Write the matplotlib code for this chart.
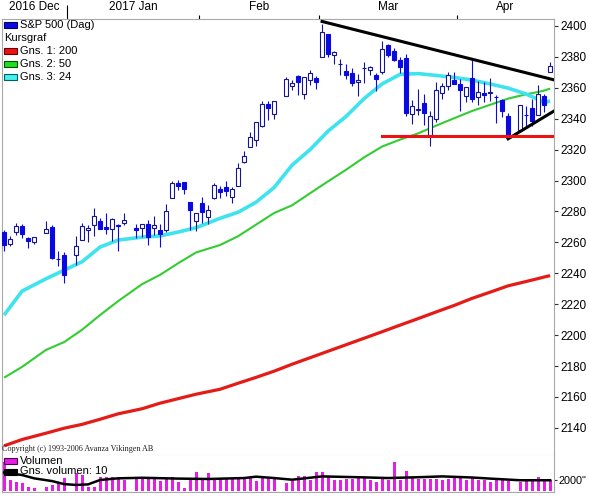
import numpy as np
import matplotlib
matplotlib.use("Agg")
import matplotlib.pyplot as plt
from matplotlib.patches import Rectangle

W, H = 589, 496

COLORS = {
    "candle_fill": "#0A0AE0",
    "candle_edge": "#15158F",
    "ma24": "#3EE3EE",
    "ma50": "#33CC33",
    "ma200": "#E41B17",
    "support": "#EE1111",
    "trend": "#000000",
    "volume": "#E51EE5",
    "frame": "#A8A8A8",
}

DATES = [
    "2016-12-16", "2016-12-19", "2016-12-20", "2016-12-21", "2016-12-22", "2016-12-23",
    "2016-12-27", "2016-12-28", "2016-12-29", "2016-12-30",
    "2017-01-03", "2017-01-04", "2017-01-05", "2017-01-06", "2017-01-09", "2017-01-10",
    "2017-01-11", "2017-01-12", "2017-01-13", "2017-01-17", "2017-01-18", "2017-01-19",
    "2017-01-20", "2017-01-23", "2017-01-24", "2017-01-25", "2017-01-26", "2017-01-27",
    "2017-01-30", "2017-01-31",
    "2017-02-01", "2017-02-02", "2017-02-03", "2017-02-06", "2017-02-07", "2017-02-08",
    "2017-02-09", "2017-02-10", "2017-02-13", "2017-02-14", "2017-02-15", "2017-02-16",
    "2017-02-17", "2017-02-21", "2017-02-22", "2017-02-23", "2017-02-24", "2017-02-27",
    "2017-02-28",
    "2017-03-01", "2017-03-02", "2017-03-03", "2017-03-06", "2017-03-07", "2017-03-08",
    "2017-03-09", "2017-03-10", "2017-03-13", "2017-03-14", "2017-03-15", "2017-03-16",
    "2017-03-17", "2017-03-20", "2017-03-21", "2017-03-22", "2017-03-23", "2017-03-24",
    "2017-03-27", "2017-03-28", "2017-03-29", "2017-03-30", "2017-03-31",
    "2017-04-03", "2017-04-04", "2017-04-05", "2017-04-06", "2017-04-07", "2017-04-10",
    "2017-04-11", "2017-04-12", "2017-04-13", "2017-04-17", "2017-04-18", "2017-04-19",
    "2017-04-20", "2017-04-21", "2017-04-24",
]

OPEN = [
    2266.8, 2259.2, 2266.5, 2270.5, 2262.9, 2260.3, 2266.2, 2270.2, 2249.5, 2251.6,
    2251.6, 2261.6, 2268.2, 2271.1, 2273.6, 2269.7, 2268.6, 2271.1, 2272.7, 2269.1,
    2269.1, 2271.9, 2269.0, 2267.8, 2267.9, 2288.9, 2298.6, 2299.0, 2286.0, 2274.0,
    2285.6, 2276.7, 2288.5, 2294.3, 2295.9, 2289.6, 2296.7, 2312.3, 2321.7, 2326.1,
    2335.6, 2349.6, 2343.0, 2354.9, 2361.1, 2367.5, 2355.7, 2365.2, 2366.1,
    2380.1, 2394.8, 2380.9, 2375.2, 2370.7, 2369.8, 2363.5, 2372.5, 2371.6, 2368.6,
    2370.3, 2387.7, 2383.7, 2378.2, 2379.3, 2343.0, 2345.5, 2350.4, 2329.1, 2339.8,
    2356.5, 2361.3, 2364.8,
    2362.3, 2354.8, 2366.6, 2353.8, 2356.6, 2356.8, 2353.9, 2352.2, 2342.0, 2332.6,
    2342.5, 2346.8, 2342.7, 2354.7, 2370.3,
]
HIGH = [
    2268.1, 2264.0, 2272.6, 2271.7, 2263.7, 2263.8, 2273.8, 2271.3, 2254.5, 2253.6,
    2263.9, 2272.8, 2271.5, 2282.1, 2275.5, 2279.3, 2275.5, 2271.8, 2278.7, 2272.1,
    2272.0, 2274.3, 2276.9, 2271.8, 2284.6, 2299.6, 2300.4, 2299.0, 2286.0, 2279.1,
    2289.1, 2284.0, 2298.3, 2296.2, 2299.4, 2295.9, 2311.1, 2319.2, 2331.6, 2337.6,
    2351.3, 2351.3, 2351.2, 2366.7, 2365.1, 2368.3, 2367.3, 2371.5, 2367.8,
    2401.0, 2394.8, 2383.9, 2378.8, 2375.1, 2373.1, 2369.1, 2376.9, 2374.4, 2369.8,
    2390.0, 2388.1, 2385.7, 2379.6, 2381.9, 2351.8, 2358.9, 2356.2, 2344.9, 2363.8,
    2363.4, 2370.4, 2370.4,
    2365.9, 2360.5, 2378.4, 2364.2, 2363.8, 2366.4, 2355.2, 2352.7, 2343.6, 2349.1,
    2348.4, 2352.6, 2361.9, 2356.2, 2377.0,
]
LOW = [
    2254.2, 2257.9, 2264.8, 2263.0, 2256.1, 2258.8, 2266.2, 2249.1, 2244.6, 2233.6,
    2245.1, 2261.6, 2260.5, 2264.1, 2268.8, 2265.3, 2260.8, 2254.3, 2271.5, 2262.8,
    2263.4, 2258.4, 2265.0, 2257.0, 2266.7, 2288.9, 2294.1, 2291.6, 2268.0, 2267.2,
    2272.4, 2271.7, 2287.9, 2288.6, 2290.2, 2285.4, 2296.6, 2311.1, 2321.4, 2322.2,
    2334.8, 2338.9, 2339.6, 2354.9, 2358.3, 2355.1, 2352.9, 2361.9, 2359.0,
    2380.1, 2380.2, 2375.4, 2368.0, 2365.5, 2361.0, 2354.5, 2363.0, 2368.5, 2358.2,
    2368.9, 2379.9, 2377.6, 2369.7, 2341.9, 2336.5, 2342.1, 2335.7, 2322.3, 2337.6,
    2352.9, 2358.6, 2362.6,
    2344.7, 2350.7, 2350.5, 2348.9, 2350.7, 2351.5, 2337.3, 2341.2, 2329.0, 2332.5,
    2334.5, 2335.1, 2342.7, 2344.5, 2370.3,
]
CLOSE = [
    2258.1, 2262.5, 2270.8, 2265.2, 2261.0, 2263.8, 2268.9, 2249.9, 2249.3, 2238.8,
    2257.8, 2270.8, 2269.0, 2277.0, 2268.9, 2268.9, 2275.3, 2270.4, 2274.6, 2267.9,
    2271.9, 2263.7, 2271.3, 2265.2, 2280.1, 2298.4, 2296.7, 2294.7, 2280.9, 2278.9,
    2279.6, 2280.9, 2297.4, 2292.6, 2293.1, 2294.7, 2307.9, 2316.1, 2328.3, 2337.6,
    2349.3, 2347.2, 2351.2, 2365.4, 2362.8, 2363.8, 2367.3, 2369.8, 2363.6,
    2396.0, 2381.9, 2383.1, 2375.3, 2368.4, 2363.0, 2364.9, 2372.6, 2373.5, 2365.5,
    2385.3, 2381.4, 2378.3, 2373.5, 2344.0, 2348.5, 2346.0, 2344.0, 2341.6, 2358.6,
    2361.1, 2368.1, 2362.7,
    2358.8, 2360.2, 2353.0, 2357.5, 2355.5, 2357.2, 2353.8, 2344.9, 2329.0, 2349.0,
    2342.2, 2338.2, 2355.8, 2348.7, 2374.2,
]
VOLUME = [
    5280, 1950, 1640, 1330, 730, 420, 730, 1040, 1330, 2310,
    3220, 2910, 730, 730, 2550, 2400, 2400, 2300, 2000, 2400,
    2370, 2370, 2370, 1760, 2370, 2450, 1600, 420, 2370, 3450,
    2370, 3150, 2370, 2370, 2370, 2370, 2370, 2370, 2370, 1800,
    2370, 2370, 2370, 1330, 2000, 2600, 2600, 2000, 3400,
    3400, 2490, 2000, 2000, 2180, 2180, 2310, 2310, 2000, 1580,
    2420, 2000, 5220, 2000, 3640, 2420, 2180, 2180, 2180, 2180,
    1870, 2180, 2420,
    2600, 2000, 2420, 2000, 2000, 1580, 1870, 2180, 1690, 1580,
    2000, 2180, 2420, 2180, 1870,
]

# moving averages at a subset of trading days
MA_DATES = [
    "2016-12-16", "2016-12-21", "2016-12-27", "2016-12-30", "2017-01-04", "2017-01-09",
    "2017-01-12", "2017-01-18", "2017-01-23", "2017-01-26", "2017-01-31", "2017-02-06",
    "2017-02-09", "2017-02-14", "2017-02-17", "2017-02-22", "2017-02-27", "2017-03-02",
    "2017-03-07", "2017-03-10", "2017-03-15", "2017-03-20", "2017-03-23", "2017-03-28",
    "2017-03-31", "2017-04-05", "2017-04-10", "2017-04-13", "2017-04-18", "2017-04-20",
    "2017-04-21", "2017-04-24",
]
MA24 = [
    2213.0, 2228.5, 2236.5, 2242.0, 2247.5, 2257.0, 2261.5, 2263.4, 2264.2, 2266.7,
    2269.5, 2275.6, 2279.5, 2286.0, 2295.5, 2310.0, 2320.0, 2332.0, 2341.5, 2353.0,
    2362.5, 2368.7, 2369.2, 2368.0, 2366.7, 2365.0, 2362.5, 2359.8, 2356.0, 2352.5,
    2350.4, 2351.5,
]
MA50 = [
    2172.5, 2179.5, 2190.5, 2195.5, 2203.5, 2213.0, 2222.0, 2233.0, 2239.0, 2246.5,
    2253.5, 2258.3, 2264.0, 2271.5, 2279.0, 2284.0, 2291.8, 2299.5, 2307.0, 2315.0,
    2322.0, 2326.5, 2330.5, 2335.5, 2340.3, 2345.0, 2349.0, 2353.0, 2355.8, 2357.3,
    2358.2, 2359.5,
]
MA200 = [
    2128.4, 2132.5, 2136.6, 2139.8, 2142.3, 2145.6, 2149.1, 2152.4, 2156.0, 2158.9,
    2161.8, 2165.0, 2168.9, 2172.7, 2176.7, 2181.2, 2185.4, 2189.6, 2193.8, 2198.0,
    2202.2, 2206.5, 2210.7, 2215.0, 2219.2, 2223.8, 2227.8, 2231.9, 2234.7, 2236.6,
    2237.6, 2238.5,
]
VOL_MA_DATES = [
    "2016-12-16", "2016-12-21", "2016-12-23", "2016-12-28", "2016-12-30", "2017-01-03",
    "2017-01-05", "2017-01-09", "2017-01-12", "2017-01-18", "2017-01-26", "2017-02-02",
    "2017-02-10", "2017-02-14", "2017-02-17", "2017-02-22", "2017-03-01", "2017-03-09",
    "2017-03-16", "2017-03-23", "2017-03-29", "2017-04-05", "2017-04-10", "2017-04-17",
    "2017-04-24",
]
VOL_MA = [
    3300, 2850, 2250, 1750, 1200, 1050, 1150, 1950, 2250, 2350, 2200, 2130,
    2300, 2550, 2300, 2000, 2600, 2450, 2300, 2450, 2600, 2400, 2200, 1900, 1900,
]

# hand-drawn lines on the chart
TREND_TOP_DATES = ["2017-03-01", "2017-04-25"]
TREND_TOP = [2402.9, 2364.8]
TREND_LOW_DATES = ["2017-04-13", "2017-04-25"]
TREND_LOW = [2327.0, 2345.8]
SUPPORT_DATES = ["2017-03-15", "2017-04-25"]
SUPPORT = [2328.8, 2328.8]

PRICE_TICKS = list(range(2140, 2401, 20))
VOLUME_TICKS = [2000]
VOLUME_TICK_LABELS = ['2000"']
MONTH_STARTS = ["2017-01-01", "2017-02-01", "2017-03-01", "2017-04-01"]
MONTH_LABELS = ["2016 Dec", "2017 Jan", "Feb", "Mar", "Apr"]

MAIN_LEGEND = [
    ("S&P 500 (Dag)", COLORS["candle_fill"], "#000060"),
    ("Kursgraf", None, None),
    ("Gns. 1: 200", "#EE1111", "#600000"),
    ("Gns. 2: 50", "#22DD22", "#005000"),
    ("Gns. 3: 24", "#44F0F0", "#006060"),
]
VOLUME_LEGEND = [
    ("Volumen", COLORS["volume"], "#500050"),
    ("Gns. volumen: 10", "#000000", "#000000"),
]


def slots(dates):
    # one slot per weekday, holidays stay empty
    return np.busday_count(DATES[0], np.array(dates, dtype="datetime64[D]")).astype(float)


def fx(x):
    return x / W


def fy(y):
    return 1 - y / H


def style_frame(ax):
    for spine in ax.spines.values():
        spine.set_color(COLORS["frame"])
        spine.set_linewidth(0.8)


def draw_legend(fig, items, y0, step):
    for i, (label, face, edge) in enumerate(items):
        yc = y0 + i * step
        if face is None:
            fig.text(fx(4), fy(yc), label, fontsize=8, va="center", ha="left")
            continue
        fig.add_artist(Rectangle((fx(4), fy(yc + 3)), 12.5 / W, 6 / H, transform=fig.transFigure,
                                 facecolor=face, edgecolor=edge, linewidth=0.8, zorder=10))
        fig.text(fx(19.5), fy(yc), label, fontsize=8, va="center", ha="left", zorder=10)


def main():
    plt.rcParams["font.family"] = ["Liberation Sans", "DejaVu Sans"]

    x = slots(DATES)
    o, h, l, c = (np.array(v) for v in (OPEN, HIGH, LOW, CLOSE))
    up = c >= o
    xmin, xmax = -0.35, x[-1] + 0.65

    fig = plt.figure(figsize=(W / 100, H / 100), dpi=100, facecolor="white")
    ax = fig.add_axes([fx(2), fy(454.5), 552 / W, (454.5 - 19) / H])
    vax = fig.add_axes([fx(2), fy(491.5), 552 / W, 37 / H])

    # moving averages under the candles
    ma_x = slots(MA_DATES)
    ax.plot(ma_x, MA200, color=COLORS["ma200"], lw=2.3, zorder=2, solid_capstyle="butt")
    ax.plot(ma_x, MA50, color=COLORS["ma50"], lw=1.5, zorder=2, solid_capstyle="butt")
    ax.plot(ma_x, MA24, color=COLORS["ma24"], lw=2.6, zorder=2, solid_capstyle="butt")

    # candles
    ax.vlines(x[up], l[up], h[up], color=COLORS["candle_edge"], lw=0.8, zorder=4)
    ax.vlines(x[~up], l[~up], h[~up], color=COLORS["candle_fill"], lw=0.8, zorder=4)
    ax.bar(x[up], (c - o)[up], bottom=o[up], width=0.72, facecolor="white",
           edgecolor=COLORS["candle_edge"], lw=0.8, zorder=5)
    ax.bar(x[~up], (o - c)[~up], bottom=c[~up], width=0.72, facecolor=COLORS["candle_fill"],
           edgecolor=COLORS["candle_fill"], lw=0.8, zorder=5)

    # drawn lines
    ax.plot(slots(TREND_TOP_DATES), TREND_TOP, color=COLORS["trend"], lw=2.2, zorder=6)
    ax.plot(slots(TREND_LOW_DATES), TREND_LOW, color=COLORS["trend"], lw=2.2, zorder=6)
    ax.plot(slots(SUPPORT_DATES), SUPPORT, color=COLORS["support"], lw=2.2, zorder=6)

    ax.set_xlim(xmin, xmax)
    ax.set_ylim(2122.8, 2404.5)
    style_frame(ax)

    ax.yaxis.tick_right()
    ax.set_yticks(PRICE_TICKS)
    ax.tick_params(axis="y", direction="out", length=3, width=0.8, pad=1.5, labelsize=8.5,
                   color="#303030")

    bounds = slots(MONTH_STARTS) - 0.5
    edges = np.concatenate([[x[0] - 0.5], bounds, [x[-1] + 0.5]])
    centers = (edges[:-1] + edges[1:]) / 2
    ax.xaxis.tick_top()
    ax.set_xticks(bounds)
    ax.set_xticklabels([])
    ax.set_xticks(centers, minor=True)
    ax.set_xticklabels(MONTH_LABELS, minor=True)
    ax.tick_params(axis="x", which="major", direction="out", length=2.6, width=0.8, color="black")
    ax.tick_params(axis="x", which="minor", length=0, pad=4, labelsize=8.5)
    ax.xaxis.get_major_ticks()[0].tick2line.set_markersize(10)

    # volume panel
    vax.bar(x, VOLUME, width=0.5, color=COLORS["volume"], zorder=2)
    vax.plot(slots(VOL_MA_DATES), VOL_MA, color="black", lw=1.8, zorder=3)
    vax.set_xlim(xmin, xmax)
    vax.set_ylim(-145, 6580)
    vax.set_xticks([])
    vax.yaxis.tick_right()
    vax.set_yticks(VOLUME_TICKS)
    vax.set_yticklabels(VOLUME_TICK_LABELS)
    vax.tick_params(axis="y", direction="out", length=2.5, width=0.8, pad=0.8, labelsize=7.8,
                    color="#303030")
    style_frame(vax)
    vax.spines["top"].set_visible(False)

    draw_legend(fig, MAIN_LEGEND, 25.3, 13)
    draw_legend(fig, VOLUME_LEGEND, 460.5, 11)
    fig.text(fx(2), fy(449), "Copyright (c) 1993-2006 Avanza Vikingen AB", fontsize=5.9,
             family="Liberation Serif", va="center", ha="left", color="#202020")

    fig.savefig("out.png", dpi=100, facecolor="white")
    plt.close(fig)


if __name__ == "__main__":
    main()
